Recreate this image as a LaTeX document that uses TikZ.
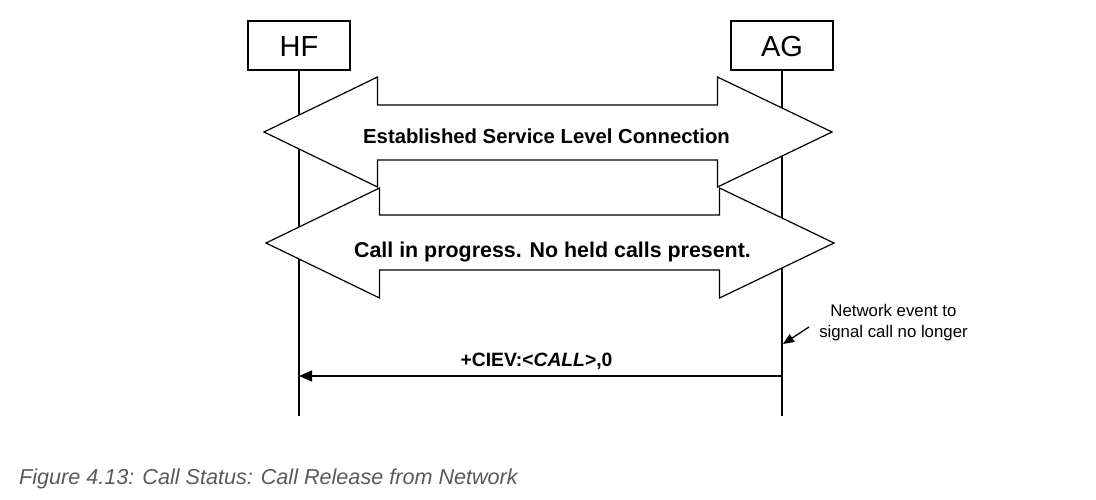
\documentclass[tikz,border=0pt]{standalone}
\usepackage{fontspec}
\setmainfont{Liberation Sans}
\usetikzlibrary{arrows.meta}
\definecolor{capgray}{HTML}{595959}
\tikzset{
  entity/.style={draw, line width=1.2pt, minimum width=102pt, minimum height=49pt, inner sep=0pt, font=\fontsize{29}{33}\selectfont},
  lifeline/.style={line width=1.3pt},
  blockarrow/.style={draw, fill=white, line width=1.2pt, line join=miter},
  bigtext/.style={anchor=base, inner sep=0pt, font=\bfseries\fontsize{20.3}{24}\selectfont},
  msg/.style={line width=1.3pt, -{Triangle[length=13pt,width=11pt]}},
  msglabel/.style={anchor=base, inner sep=0pt, font=\bfseries\fontsize{19.3}{23}\selectfont},
  note/.style={anchor=base, inner sep=0pt, font=\fontsize{16.8}{20}\selectfont},
  notearrow/.style={line width=1.3pt, -{Triangle[length=11pt,width=9pt]}},
  caption/.style={anchor=base west, inner sep=0pt, text=capgray, font=\itshape\fontsize{21.6}{25}\selectfont}
}
\begin{document}
\begin{tikzpicture}[x=1pt,y=-1pt]
\useasboundingbox (0,0) rectangle (1096,499);
% entities
\node[entity] (hf) at (299,45.5) {};
\node[entity] (ag) at (782,45.5) {};
\node[anchor=base, inner sep=0pt, font=\fontsize{29}{33}\selectfont] (hft) at (299,56) {HF};
\node[anchor=base, inner sep=0pt, font=\fontsize{29}{33}\selectfont] (agt) at (782,56) {AG};
% lifeline ends
\coordinate (hfend) at (299,416);
\coordinate (agend) at (782,416);
\draw[lifeline] (hf.south) -- (hfend);
\draw[lifeline] (ag.south) -- (agend);
% block arrows
\draw[blockarrow] (264,132) -- (377.5,77) -- (377.5,105) -- (717.5,105) -- (717.5,77) -- (832,132)
  -- (717.5,187) -- (717.5,160) -- (377.5,160) -- (377.5,187) -- cycle;
\node[bigtext] (slc) at (546.5,143) {Established Service Level Connection};
\draw[blockarrow] (266,243) -- (379.5,188) -- (379.5,215) -- (719.5,215) -- (719.5,188) -- (834,243)
  -- (719.5,298) -- (719.5,270) -- (379.5,270) -- (379.5,298) -- cycle;
\node[bigtext, font=\bfseries\fontsize{21.4}{25}\selectfont] (cip) at (552.5,257) {Call in progress. No held calls present.};
% annotation
\node[note] (n1) at (893.5,316) {Network event to};
\node[note] (n2) at (893.5,337) {signal call no longer};
\coordinate (nstart) at (809,327);
\coordinate (nend) at (783,344);
\draw[notearrow] (nstart) -- (nend);
% message
\coordinate (agm) at (782,376);
\coordinate (hfm) at (299,376);
\draw[msg] (agm) -- (hfm);
\node[msglabel] (ml) at (536.5,366) {+CIEV:<\textit{CALL}>,0};
% caption
\node[caption] (cap) at (19,484) {Figure 4.13: Call Status: Call Release from Network};
\end{tikzpicture}
\end{document}
